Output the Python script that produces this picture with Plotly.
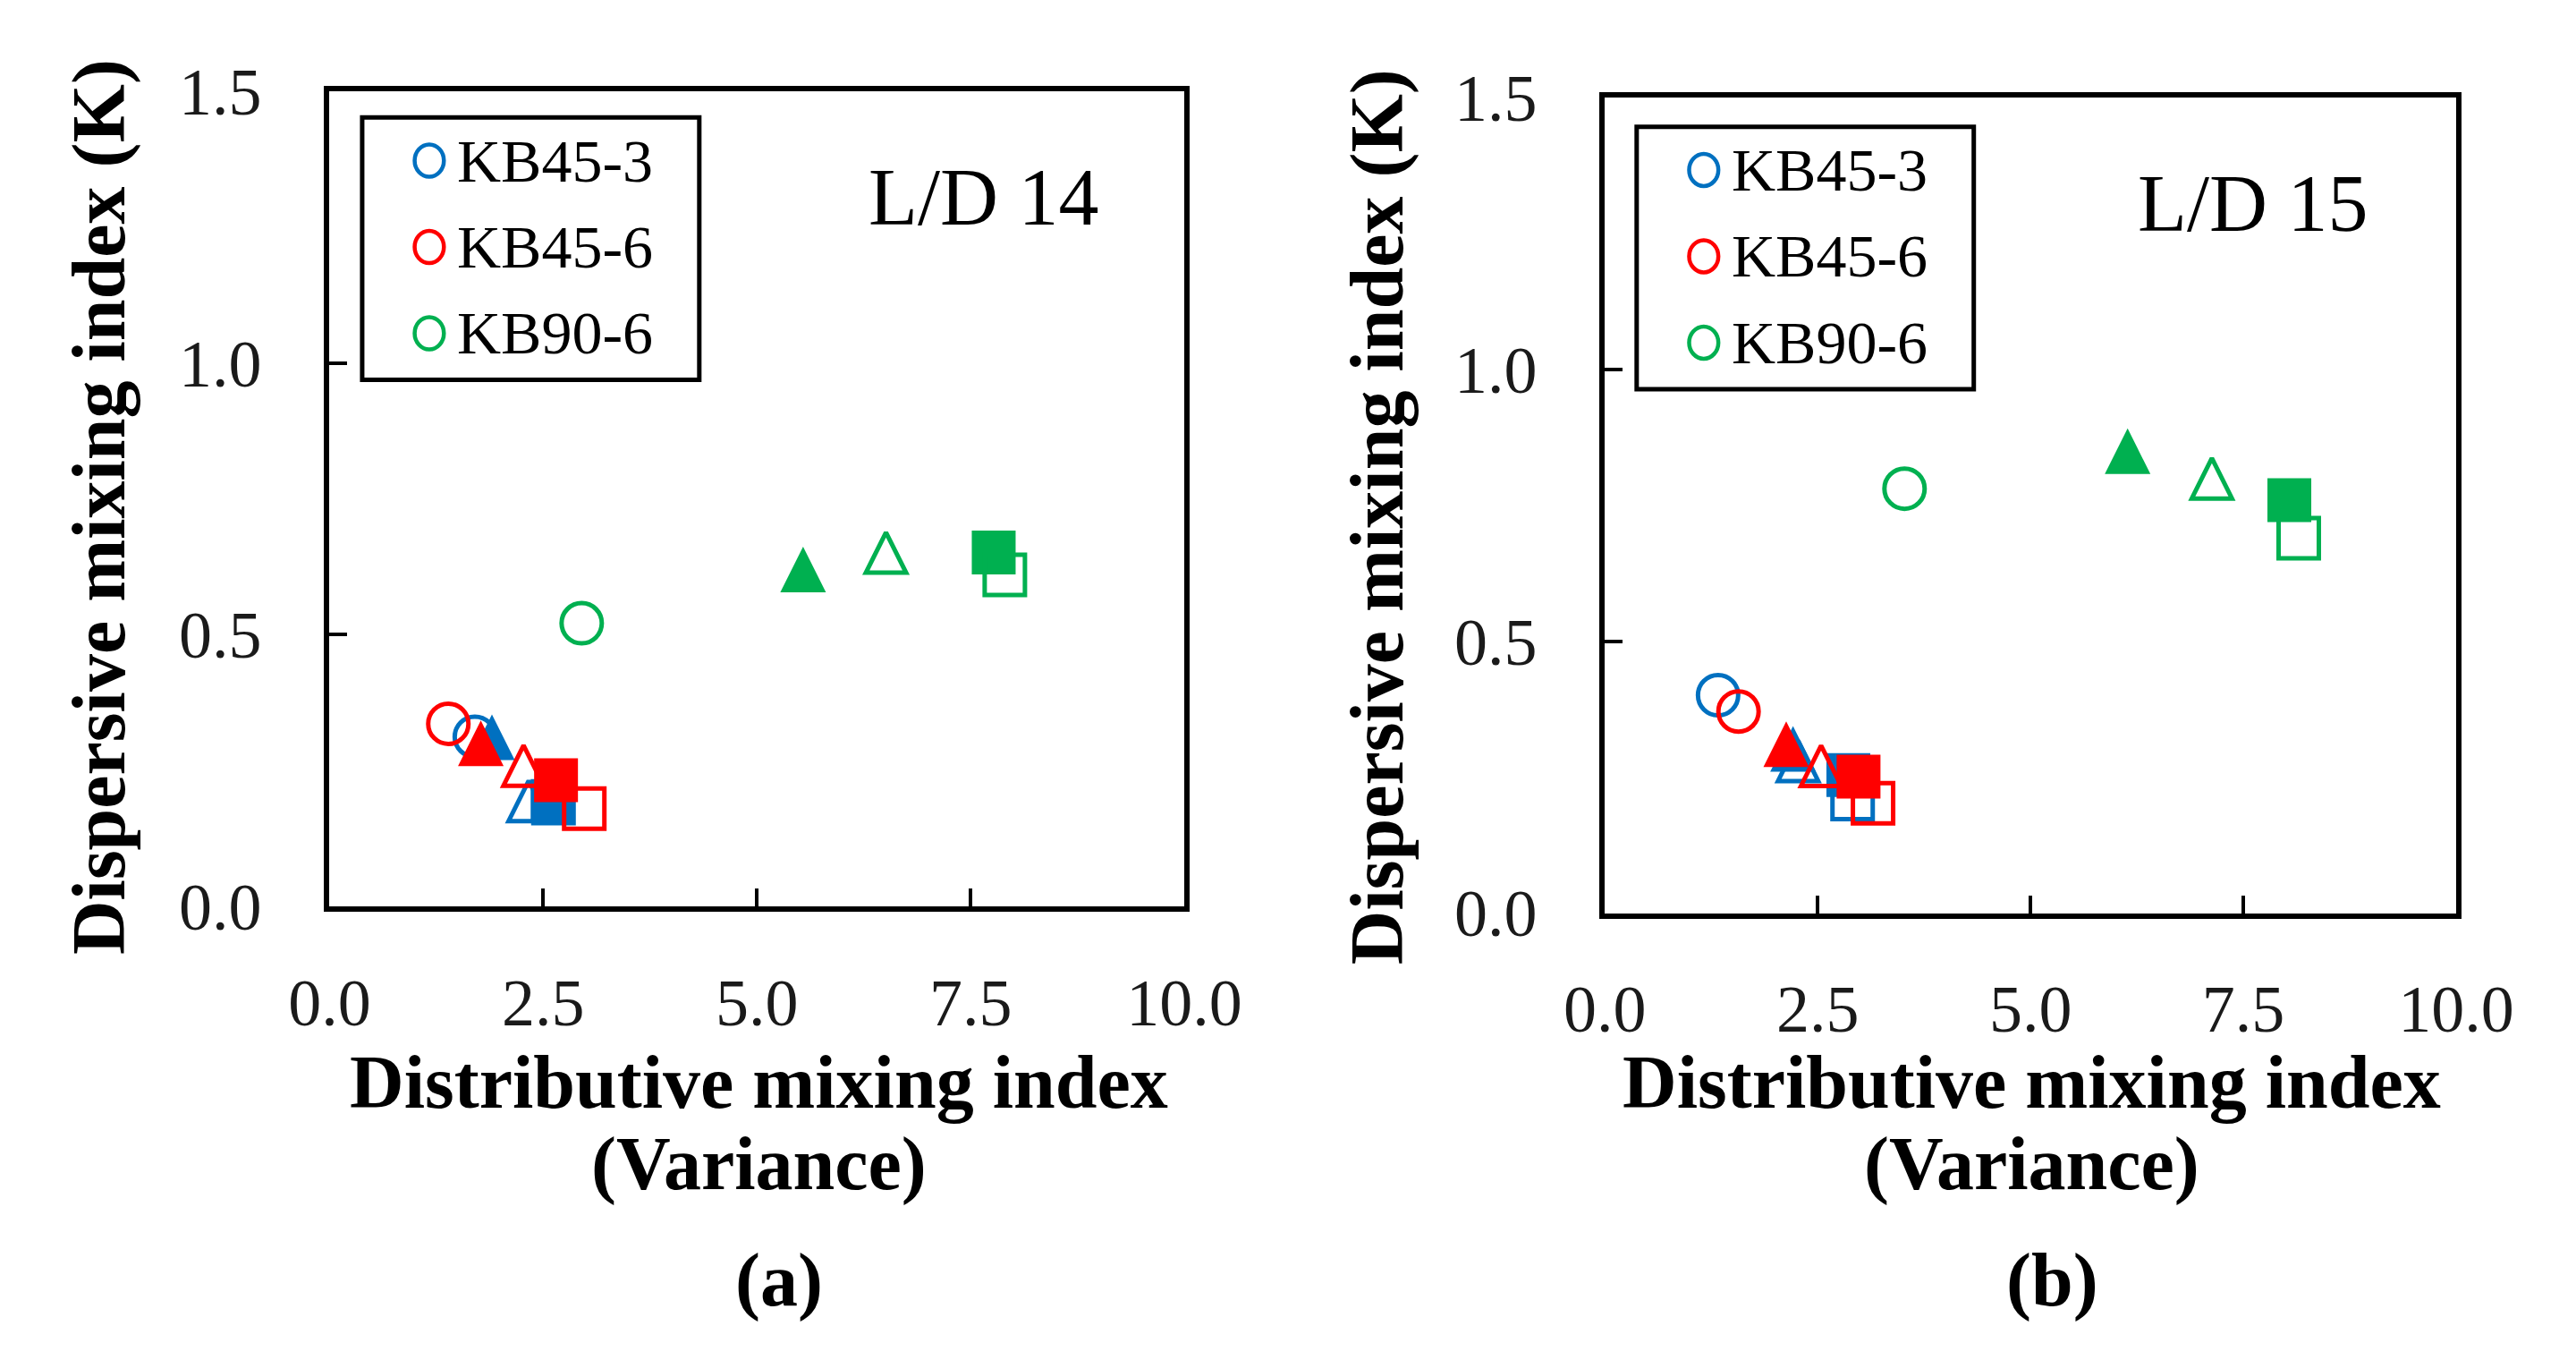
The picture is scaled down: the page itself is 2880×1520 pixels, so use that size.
import plotly.graph_objects as go

# point order in every series: open circle, filled triangle, open triangle, filled square, open square
# panel (a) L/D 14
kb45_3_x_14 = [1.70, 1.90, 2.33, 2.61, 2.62]
kb45_3_y_14 = [0.312, 0.311, 0.194, 0.194, 0.190]
kb45_6_x_14 = [1.39, 1.77, 2.27, 2.65, 2.98]
kb45_6_y_14 = [0.336, 0.300, 0.259, 0.232, 0.180]
kb90_6_x_14 = [2.95, 5.54, 6.51, 7.77, 7.90]
kb90_6_y_14 = [0.521, 0.620, 0.651, 0.651, 0.610]

# panel (b) L/D 15
kb45_3_x_15 = [1.33, 2.21, 2.27, 2.86, 2.91]
kb45_3_y_15 = [0.401, 0.302, 0.280, 0.254, 0.210]
kb45_6_x_15 = [1.57, 2.13, 2.54, 2.98, 3.15]
kb45_6_y_15 = [0.371, 0.311, 0.271, 0.251, 0.202]
kb90_6_x_15 = [3.52, 6.14, 7.13, 8.04, 8.15]
kb90_6_y_15 = [0.781, 0.850, 0.800, 0.760, 0.690]

series_names = ["KB45-3", "KB45-6", "KB90-6"]
series_colors = ["#0070C0", "#FF0000", "#00B050"]
x_ticks = [0, 2.5, 5.0, 7.5, 10.0]
y_ticks = [0, 0.5, 1.0, 1.5]

W, H = 2880, 1520
SERIF = "Liberation Serif"

# marker look for the 5 points of a series (triangles made from arrow symbol so width == height)
symbols = ["circle-open", "arrow-down", "arrow-down-open", "square", "square-open"]
sizes = [45, 51, 45, 49, 45]
angles = [0, 180, 180, 0, 0]
standoffs = [0, 25.5, 22.5, 0, 0]
line_w = [5, 0, 5, 0, 5]


def px_x(v):
    return v / W


def px_y(v):
    return 1 - v / H


fig = go.Figure()

panels = [
    ("x", "y", [(kb45_3_x_14, kb45_3_y_14), (kb45_6_x_14, kb45_6_y_14), (kb90_6_x_14, kb90_6_y_14)]),
    ("x2", "y2", [(kb45_3_x_15, kb45_3_y_15), (kb45_6_x_15, kb45_6_y_15), (kb90_6_x_15, kb90_6_y_15)]),
]

for xa, ya, data in panels:
    for (xs, ys), name, col in zip(data, series_names, series_colors):
        fig.add_trace(go.Scatter(
            x=xs, y=ys, mode="markers", name=name, showlegend=False,
            xaxis=xa, yaxis=ya,
            marker=dict(symbol=symbols, size=sizes, angle=angles, standoff=standoffs,
                        color=col, opacity=1, line=dict(color=col, width=line_w)),
        ))

axis_common = dict(
    showline=True, mirror=True, linecolor="black", linewidth=6,
    ticks="inside", ticklen=20, tickwidth=4, tickcolor="black",
    showgrid=False, zeroline=False, tickformat=".1f",
    tickfont=dict(family=SERIF, size=74, color="#1a1a1a"),
)

fig.update_layout(
    width=W, height=H,
    margin=dict(l=0, r=0, t=0, b=0),
    paper_bgcolor="white", plot_bgcolor="white",
    xaxis=dict(domain=[px_x(327), px_x(1321)], range=[0, 10], tickvals=x_ticks,
               anchor="y", ticklabelstandoff=38, **axis_common),
    yaxis=dict(domain=[px_y(1020), px_y(57)], range=[0, 1.5], tickvals=y_ticks,
               anchor="x", ticklabelstandoff=55, **axis_common),
    xaxis2=dict(domain=[px_x(1810), px_x(2800)], range=[0, 10], tickvals=x_ticks,
                anchor="y2", ticklabelstandoff=38, **axis_common),
    yaxis2=dict(domain=[px_y(1028), px_y(65)], range=[0, 1.5], tickvals=y_ticks,
                anchor="x2", ticklabelstandoff=55, **axis_common),
    showlegend=False,
)

# legend boxes drawn by hand so the swatch circles can be as large as in the original
shapes = []
annotations = []
for left, top in [(365, 88), (1847, 99)]:
    shapes.append(dict(type="rect", xref="paper", yref="paper",
                       x0=px_x(left), x1=px_x(left + 392), y0=px_y(top + 310), y1=px_y(top),
                       line=dict(color="black", width=5), fillcolor="white", layer="below"))
    for i, (name, col) in enumerate(zip(series_names, series_colors)):
        cy = top + 51 + i * 102
        cx = left + 78
        shapes.append(dict(type="circle", xref="paper", yref="paper",
                           x0=px_x(cx - 17), x1=px_x(cx + 17), y0=px_y(cy + 19), y1=px_y(cy - 19),
                           line=dict(color=col, width=4.5)))
        annotations.append(dict(text=name, xref="paper", yref="paper", x=px_x(left + 108), y=px_y(cy),
                                xanchor="left", yanchor="middle", showarrow=False,
                                font=dict(family=SERIF, size=68, color="black")))

title_font = dict(family=SERIF, size=84, color="black", weight="bold")
for label, ld, x_center, ld_x, ld_y, yt_x, yt_y in [
    ("(a)", "L/D 14", 826, 1087, 182, 60, 548),
    ("(b)", "L/D 15", 2306, 2563, 190, 1545, 560),
]:
    for txt, yy in [("Distributive mixing index", 1228), ("(Variance)", 1324)]:
        annotations.append(dict(text=txt, xref="paper", yref="paper",
                                x=px_x(x_center), y=px_y(yy), xanchor="center", yanchor="middle",
                                showarrow=False, font=title_font))
    annotations.append(dict(text=label, xref="paper", yref="paper", x=px_x(x_center + 24), y=px_y(1462),
                            xanchor="center", yanchor="middle", showarrow=False, font=title_font))
    annotations.append(dict(text="Dispersive mixing index (K)", xref="paper", yref="paper",
                            x=px_x(yt_x), y=px_y(yt_y), xanchor="center", yanchor="middle",
                            textangle=-90, showarrow=False, font=title_font))
    annotations.append(dict(text=ld, xref="paper", yref="paper", x=px_x(ld_x), y=px_y(ld_y),
                            xanchor="center", yanchor="middle", showarrow=False,
                            font=dict(family=SERIF, size=90, color="black")))

fig.update_layout(shapes=shapes, annotations=annotations)

fig.write_html("out.html")
